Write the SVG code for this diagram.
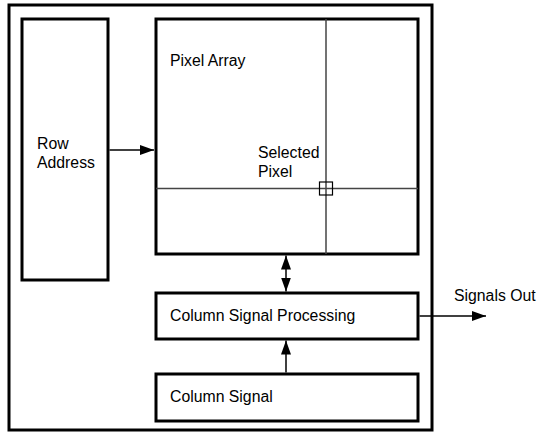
<svg xmlns="http://www.w3.org/2000/svg" width="537" height="433" viewBox="0 0 537 433">
<style>
.box{fill:#fff;stroke:#000;stroke-width:3}
.grid{stroke:#444;stroke-width:1.5;fill:none}
.t{font-family:"Liberation Sans",Arial,sans-serif;font-size:15.8px;fill:#000}
.c{stroke:#000;stroke-width:1.5;fill:none}
</style>
<defs>
<marker id="ah" viewBox="0 0 14 10" refX="14" refY="5" markerWidth="14" markerHeight="10" markerUnits="userSpaceOnUse" orient="auto-start-reverse">
<path d="M0,0 L14,5 L0,10 Z" fill="#000"/>
</marker>
</defs>
<rect id="outer" class="box" x="9" y="5" width="423" height="425"/>
<g id="row-address">
<rect class="box" x="22" y="19" width="86" height="261"/>
<text class="t" x="37" y="149">Row</text>
<text class="t" x="37" y="168">Address</text>
</g>
<g id="pixel-array">
<rect class="box" x="156" y="19" width="262" height="235"/>
<line class="grid" x1="326" y1="19" x2="326" y2="254"/>
<line class="grid" x1="156" y1="188.5" x2="418" y2="188.5"/>
<rect x="319.5" y="182" width="13" height="13" fill="none" stroke="#000" stroke-width="1.2"/>
<text class="t" x="170" y="66">Pixel Array</text>
<text class="t" x="258" y="158">Selected</text>
<text class="t" x="258" y="177">Pixel</text>
</g>
<g id="column-signal-processing">
<rect class="box" x="156" y="293" width="262" height="46"/>
<text class="t" x="170" y="321">Column Signal Processing</text>
</g>
<g id="column-signal">
<rect class="box" x="156" y="374" width="262" height="47"/>
<text class="t" x="170" y="402">Column Signal</text>
</g>
<g id="signals-out">
<text class="t" x="454" y="301">Signals Out</text>
</g>
<g id="connectors">
<line class="c" x1="109.5" y1="150" x2="154" y2="150" marker-end="url(#ah)"/>
<line class="c" x1="286" y1="255.5" x2="286" y2="291.5" marker-start="url(#ah)" marker-end="url(#ah)"/>
<line class="c" x1="286" y1="372.5" x2="286" y2="340.5" marker-end="url(#ah)"/>
<line class="c" x1="419.5" y1="316" x2="486" y2="316" marker-end="url(#ah)"/>
</g>
</svg>
